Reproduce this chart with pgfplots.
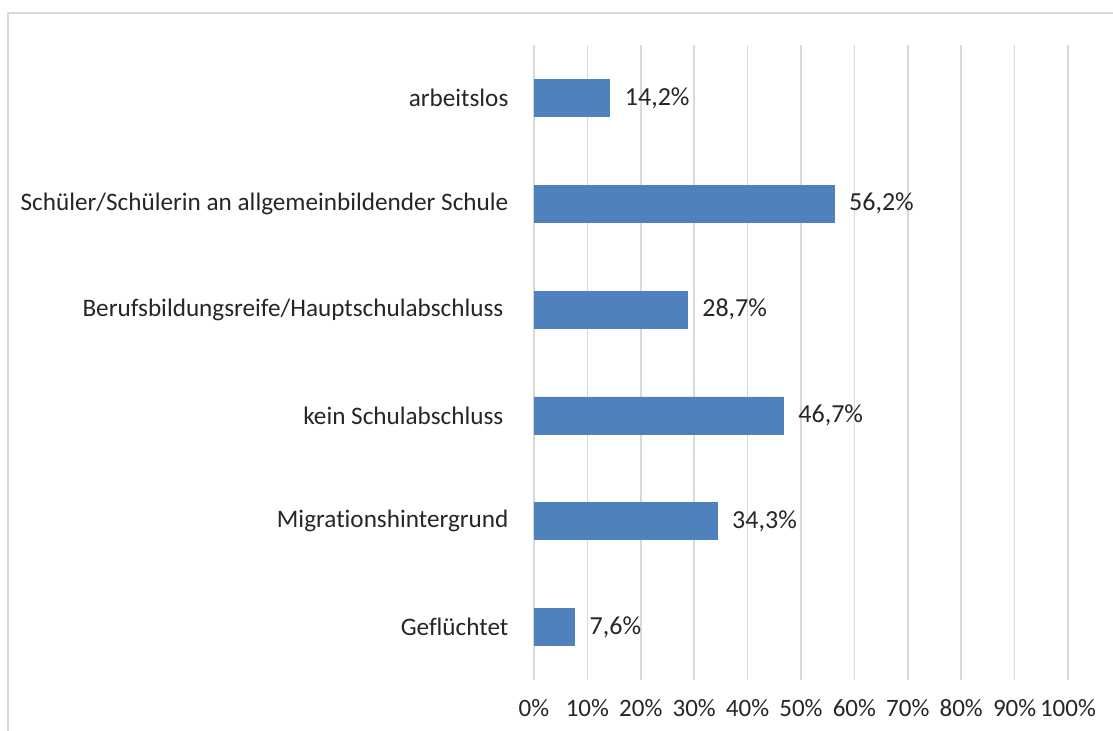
\documentclass[border=0pt]{standalone}
\usepackage{fontspec}
\setmainfont{Carlito}[Ligatures=NoCommon]
\usepackage{pgfplots}
\pgfplotsset{compat=1.18}
\definecolor{barblue}{HTML}{4F81BD}
\definecolor{gridgray}{HTML}{D9D9D9}
\definecolor{txt}{HTML}{262626}
\begin{document}
\begin{tikzpicture}[font=\fontsize{13}{15}\selectfont, text=txt]
% chart frame (top and left edges)
\draw[gridgray, line width=1pt] (4pt,0pt) -- (4pt,359pt) -- (556.5pt,359pt);
\begin{axis}[
    at={(267pt,25.5pt)}, anchor=south west,
    scale only axis,
    width=267pt, height=317.5pt,
    xbar, bar width=18.5pt, bar shift=0pt,
    xmin=0, xmax=100,
    ymin=-0.5, ymax=5.5,
    axis line style={draw=none},
    xtick={0,10,...,100},
    xticklabel={\pgfmathprintnumber{\tick}\%},
    xmajorgrids,
    grid style={gridgray, line width=0.75pt},
    ytick={0,1,2,3,4,5},
    yticklabels={Geflüchtet, Migrationshintergrund, {kein Schulabschluss\hspace*{2.5pt}}, {Berufsbildungsreife/Hauptschulabschluss\hspace*{2.5pt}}, Schüler/Schülerin an allgemeinbildender Schule, arbeitslos},
    tick style={draw=none},
    yticklabel style={anchor=east, xshift=-5pt, font=\fontsize{12.6}{15}\selectfont},
    xticklabel style={yshift=-6pt, font=\fontsize{12.5}{15}\selectfont},
    /pgf/number format/assume math mode=true,
    point meta=x,
    nodes near coords={\pgfmathprintnumber[fixed,fixed zerofill,precision=1,use comma]{\pgfplotspointmeta}\%},
    nodes near coords style={anchor=west, xshift=4pt, text=txt},
]
\addplot[fill=barblue, draw=barblue] coordinates {
    (7.6,0)
    (34.3,1)
    (46.7,2)
    (28.7,3)
    (56.2,4)
    (14.2,5)
};
\end{axis}
\pgfresetboundingbox
\path[use as bounding box] (0,0) rectangle (556.5pt,365.5pt);
\end{tikzpicture}
\end{document}
